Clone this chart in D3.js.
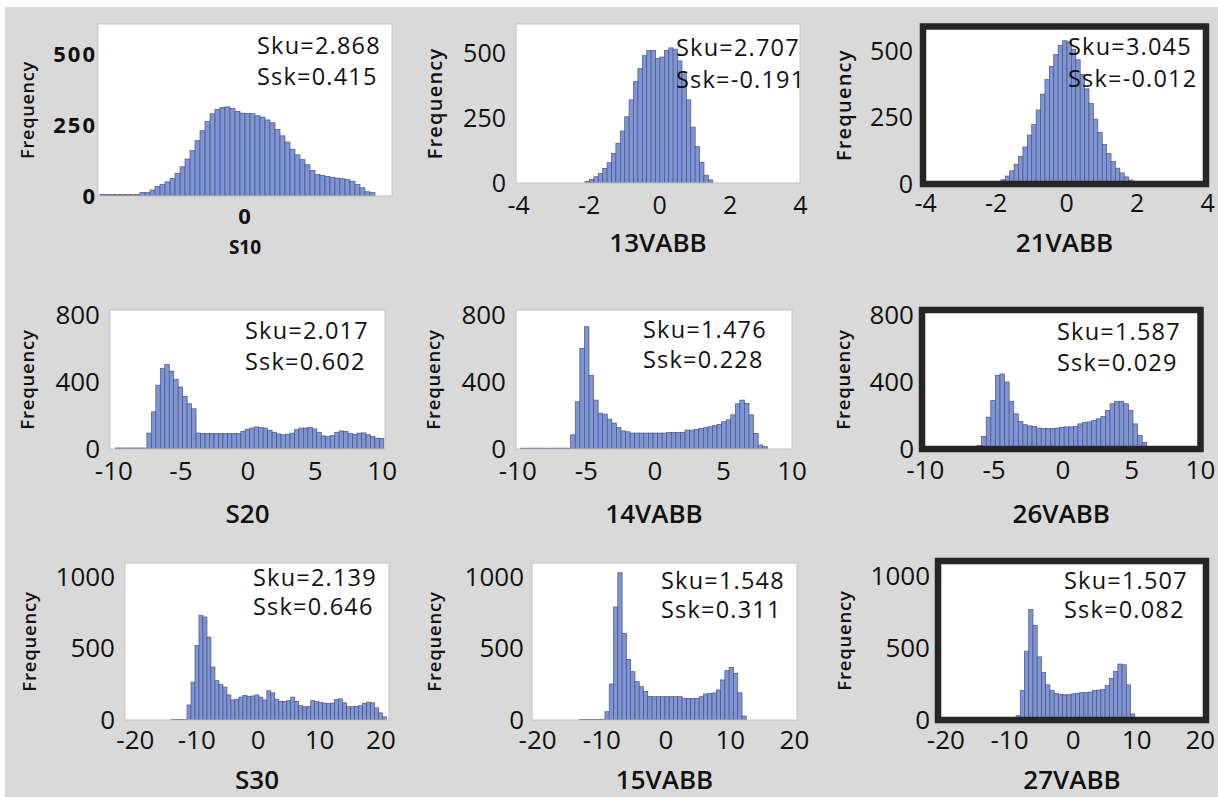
<!DOCTYPE html>
<html>
<head>
<meta charset="utf-8">
<script src="https://cdn.jsdelivr.net/npm/d3@7"></script>
<style>
  body { margin: 0; background: #fff; }
  svg { display: block; }
  text { font-family: "Open Sans", sans-serif; fill: #111; }
</style>
</head>
<body>
<div id="chart"></div>
<script>
// ---- data ----
const xTitles = ["S10", "13VABB", "21VABB", "S20", "14VABB", "26VABB", "S30", "15VABB", "27VABB"];
const skuValues = [2.868, 2.707, 3.045, 2.017, 1.476, 1.587, 2.139, 1.548, 1.507];
const sskValues = [0.415, -0.191, -0.012, 0.602, 0.228, 0.029, 0.646, 0.311, 0.082];

// first bin edge and bin width of every histogram
const binStarts = [-0.986, -2.1, -2.1, -9.833, -9.77, -6.2, -14.1, -13.44, -8.9];
const binWidths = [0.034, 0.125, 0.125, 1 / 3, 1 / 3, 1 / 3, 0.65, 0.667, 0.667];

const s10Counts = [5, 5, 5, 5, 5, 5, 5, 5, 12, 12, 21, 33, 41, 50, 62, 80, 103, 130, 160, 195, 230, 262,
  290, 305, 312, 314, 308, 298, 292, 291, 290, 283, 278, 268, 258, 235, 212, 190, 165, 145, 128, 110,
  90, 76, 72, 69, 66, 63, 61, 58, 52, 40, 29, 15, 12];
const v13Counts = [6, 14, 24, 37, 56, 78, 114, 153, 200, 255, 320, 390, 440, 490, 510, 510, 480, 485,
  510, 520, 515, 470, 420, 320, 215, 140, 80, 30, 12];
const v21Counts = [2, 7, 16, 30, 50, 75, 105, 140, 185, 225, 280, 340, 395, 445, 490, 525, 542, 538,
  510, 470, 415, 360, 305, 245, 195, 150, 115, 85, 60, 42, 27, 15, 7, 3];
const s20Counts = [6, 6, 6, 6, 6, 6, 6, 95, 222, 381, 480, 505, 465, 415, 370, 315, 270, 240, 95, 93, 93,
  93, 93, 93, 93, 93, 93, 93, 105, 118, 125, 132, 128, 125, 112, 100, 90, 85, 88, 95, 115, 125, 125, 128,
  120, 100, 78, 75, 80, 100, 108, 105, 92, 88, 95, 96, 85, 75, 65, 63];
const v14Counts = [5, 5, 5, 5, 5, 5, 5, 5, 5, 5, 5, 85, 282, 600, 730, 440, 292, 214, 208, 178, 155, 128,
  108, 103, 95, 95, 95, 95, 95, 95, 95, 95, 99, 99, 99, 99, 113, 113, 117, 123, 127, 133, 139, 147, 163,
  174, 204, 270, 292, 272, 204, 93, 24, 14];
const v26Counts = [22, 75, 190, 290, 440, 448, 400, 285, 210, 165, 145, 138, 135, 125, 122, 122, 122,
  125, 130, 132, 132, 135, 150, 158, 162, 170, 180, 195, 230, 270, 285, 285, 270, 230, 150, 80, 40, 12, 6];
const s30Counts = [4, 4, 4, 4, 105, 265, 520, 730, 720, 580, 370, 275, 250, 230, 175, 140, 145, 160, 172,
  165, 168, 175, 160, 140, 205, 190, 145, 130, 130, 135, 160, 130, 100, 93, 95, 135, 130, 122, 118, 115,
  118, 145, 148, 120, 93, 93, 95, 100, 115, 125, 120, 85, 50, 22];
const v15Counts = [4, 4, 4, 4, 4, 4, 58, 252, 790, 1030, 606, 424, 338, 268, 233, 200, 165, 163, 163, 163,
  163, 163, 163, 163, 152, 150, 150, 152, 163, 182, 185, 189, 210, 280, 345, 368, 326, 190, 28];
const v27Counts = [30, 205, 480, 770, 660, 440, 330, 245, 205, 185, 178, 176, 176, 182, 185, 190, 192, 195,
  205, 208, 212, 240, 290, 340, 390, 385, 245, 42, 15];
const counts = [s10Counts, v13Counts, v21Counts, s20Counts, v14Counts, v26Counts, s30Counts, v15Counts, v27Counts];

const yTicks = [[0, 250, 500], [0, 250, 500], [0, 250, 500],
  [0, 400, 800], [0, 400, 800], [0, 400, 800],
  [0, 500, 1000], [0, 500, 1000], [0, 500, 1000]];
const xTicks = [[0], [-4, -2, 0, 2, 4], [-4, -2, 0, 2, 4],
  [-10, -5, 0, 5, 10], [-10, -5, 0, 5, 10], [-10, -5, 0, 5, 10],
  [-20, -10, 0, 10, 20], [-20, -10, 0, 10, 20], [-20, -10, 0, 10, 20]];
const xDomains = [[-1, 1], [-4.06, 4.0], [-4.06, 3.97],
  [-10.25, 10.25], [-10.09, 10.03], [-10.2, 10.04],
  [-21.6, 21.4], [-20.8, 20.47], [-21.16, 20.97]];
const yMaxes = [606, 612, 596, 830, 830, 830, 1098, 1098, 1108];

// ---- layout ----
const W = 1218, H = 797;
// box: [left, right, top, bottom(zero line)]
const layout = [
  { box: [98, 392, 24, 196], framed: false, freqX: 28, freqSize: 18, stat: [257, 54, 85], tickGap: [1, 12], tickSize: 22, small: true },
  { box: [516, 800, 24, 183], framed: false, freqX: 435, freqSize: 20, stat: [676, 56, 88], tickGap: [10, 13], tickSize: 25 },
  { box: [923, 1206, 26.5, 184], framed: true, freqX: 844, freqSize: 20, stat: [1068, 55, 87], tickGap: [10, 10], tickSize: 25 },
  { box: [110, 385, 310, 449], framed: false, freqX: 28, freqSize: 18.5, stat: [245, 339, 370], tickGap: [10, 13], tickSize: 26 },
  { box: [516, 792, 310, 449], framed: false, freqX: 434, freqSize: 18.5, stat: [643, 338, 368], tickGap: [10, 13], tickSize: 26 },
  { box: [922, 1200.5, 310, 449], framed: true, freqX: 844, freqSize: 18.5, stat: [1057, 340, 371], tickGap: [8, 12], tickSize: 26 },
  { box: [125, 389, 563, 720], framed: false, freqX: 30, freqSize: 18.5, stat: [253, 586, 615], tickGap: [10, 11], tickSize: 26 },
  { box: [532, 797, 563, 720], framed: false, freqX: 435, freqSize: 18.5, stat: [661, 589, 618], tickGap: [8, 11], tickSize: 26 },
  { box: [938, 1206, 561, 720], framed: true, freqX: 845, freqSize: 18.5, stat: [1064, 589, 618], tickGap: [8, 11], tickSize: 26 }
];
const titleBaselines = [254, 252, 252, 523, 523, 523, 789, 789, 789];

const svg = d3.select("#chart").append("svg")
  .attr("width", W)
  .attr("height", H);

svg.append("rect")
  .attr("x", 5).attr("y", 7)
  .attr("width", W - 5).attr("height", H - 7)
  .attr("fill", "#d9d9d9");

const defs = svg.append("defs");

layout.forEach((L, i) => {
  const [x0, x1, y0, y1] = L.box;
  const x = d3.scaleLinear().domain(xDomains[i]).range([x0, x1]);
  const y = d3.scaleLinear().domain([0, yMaxes[i]]).range([y1, y0]);
  const g = svg.append("g");

  g.append("rect")
    .attr("x", x0).attr("y", y0)
    .attr("width", x1 - x0).attr("height", y1 - y0)
    .attr("fill", "#fff");

  defs.append("clipPath").attr("id", "clip" + i)
    .append("rect")
    .attr("x", x0).attr("y", y0)
    .attr("width", x1 - x0).attr("height", y1 - y0);

  const bins = counts[i].map((c, k) => ({
    a: binStarts[i] + k * binWidths[i],
    b: binStarts[i] + (k + 1) * binWidths[i],
    c: c
  }));

  g.append("g")
    .attr("clip-path", `url(#clip${i})`)
    .selectAll("rect")
    .data(bins)
    .enter()
    .append("rect")
    .attr("x", d => x(d.a))
    .attr("width", d => x(d.b) - x(d.a))
    .attr("y", d => y(d.c))
    .attr("height", d => y(0) - y(d.c))
    .attr("fill", "#7d95d8")
    .attr("stroke", "#4d5470")
    .attr("stroke-width", 0.7);

  g.append("rect")
    .attr("x", x0).attr("y", y0)
    .attr("width", x1 - x0).attr("height", y1 - y0)
    .attr("fill", "none")
    .attr("stroke", L.framed ? "#262626" : "#c4c4c4")
    .attr("stroke-width", L.framed ? 6.5 : 1);

  // axes
  const yAxis = g.append("g")
    .attr("transform", `translate(${x0},0)`)
    .call(d3.axisLeft(y).tickValues(yTicks[i]).tickSize(0).tickPadding(L.tickGap[0]).tickFormat(d => String(d)));
  const xAxis = g.append("g")
    .attr("transform", `translate(0,${y1})`)
    .call(d3.axisBottom(x).tickValues(xTicks[i]).tickSize(0).tickPadding(L.tickGap[1]).tickFormat(d => String(d)));
  [yAxis, xAxis].forEach(a => {
    a.select(".domain").remove();
    a.selectAll("text")
      .attr("fill", "#000")
      .style("font-family", '"Open Sans", sans-serif')
      .style("font-size", L.tickSize + "px")
      .style("font-weight", L.small ? 700 : 400)
      .style("letter-spacing", L.small ? "2px" : "0px");
  });

  // axis titles
  g.append("text")
    .attr("x", (x0 + x1) / 2)
    .attr("y", titleBaselines[i])
    .attr("text-anchor", "middle")
    .style("font-size", L.small ? "19px" : "26px")
    .style("font-weight", L.small ? 700 : 600)
    .text(xTitles[i]);

  g.append("text")
    .attr("transform", `translate(${L.freqX},${(y0 + y1) / 2}) rotate(-90)`)
    .attr("text-anchor", "middle")
    .attr("dy", "0.35em")
    .style("font-size", L.freqSize + "px")
    .style("font-weight", 600)
    .style("letter-spacing", L.freqSize > 19 ? "1.2px" : "0.8px")
    .text("Frequency");

  // Sku / Ssk
  const [sx, b1, b2] = L.stat;
  g.append("text")
    .attr("x", sx).attr("y", b1)
    .style("font-size", "23.5px")
    .style("letter-spacing", "1.2px")
    .text("Sku=" + skuValues[i].toFixed(3));
  g.append("text")
    .attr("x", sx).attr("y", b2)
    .style("font-size", "23.5px")
    .style("letter-spacing", "1.2px")
    .text("Ssk=" + sskValues[i].toFixed(3));
});
</script>
</body>
</html>
